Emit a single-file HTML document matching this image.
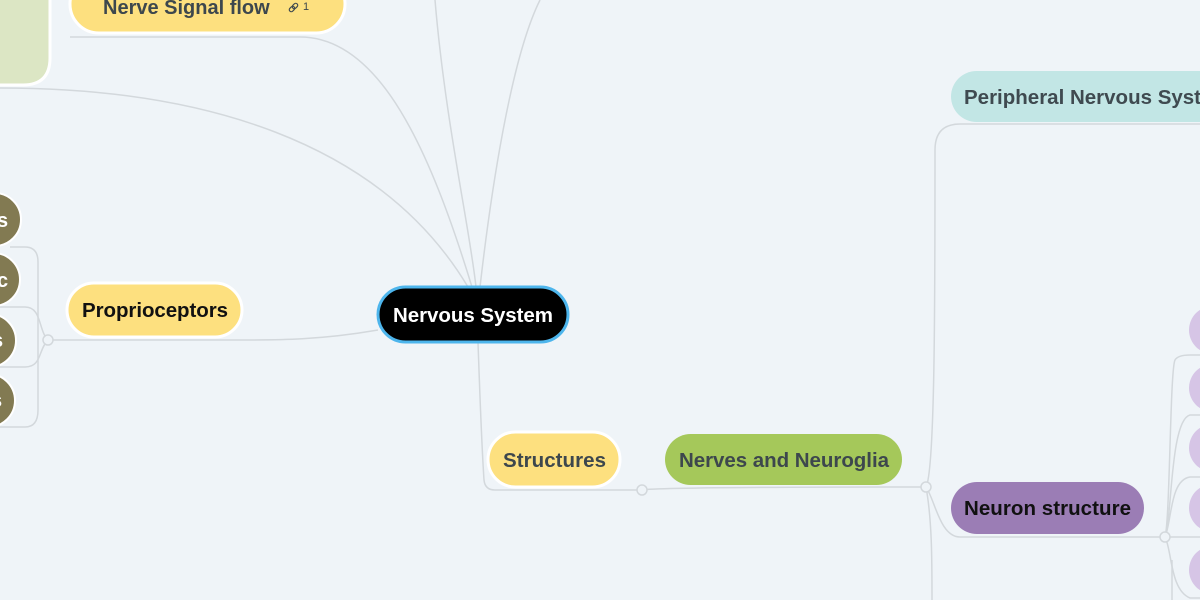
<!DOCTYPE html>
<html><head><meta charset="utf-8"><style>
html,body{margin:0;padding:0;background:#eff4f8;}
svg{display:block;font-family:"Liberation Sans",sans-serif;font-weight:bold;}
</style></head><body>
<svg width="1200" height="600" viewBox="0 0 1200 600" xmlns="http://www.w3.org/2000/svg">
<rect width="1200" height="600" fill="#eff4f8"/>
<g fill="none" stroke="#d3d8dc" stroke-width="1.5">
<path d="M70 37 H300 C380 37 430 150 472 287"/>
<path d="M0 88 C200 88 380 140 468 287"/>
<path d="M435 0 C445 120 470 230 476 287"/>
<path d="M540 0 C510 60 490 200 480 287"/>
<path d="M378 330 C320 340 280 340 240 340 H48"/>
<path d="M10 247 H25 Q38 247 38 262 V410 Q38 427 25 427 H0"/>
<path d="M48 340 C38 330 42 307 25 307 H0"/>
<path d="M48 340 C38 350 42 367 25 367 H0"/>
<path d="M478 342 C480 400 482 450 484 480 Q485 490 495 490 H642"/>
<path d="M642 490 C660 487 880 487 926 487"/>
<path d="M926 487 C935 470 935 300 935 150 Q935 124 960 124 H1200"/>
<path d="M926 487 C935 500 940 537 960 537 H1165"/>
<path d="M926 487 C932 520 932 560 932 600"/>
<path d="M1165 537 C1170 520 1170 370 1175 360 Q1178 355 1190 355 H1200"/>
<path d="M1165 537 C1172 520 1170 420 1190 415 H1200"/>
<path d="M1165 537 C1172 520 1170 480 1190 477 H1200"/>
<path d="M1165 537 H1200"/>
<path d="M1165 537 C1172 550 1170 590 1190 598 H1200"/>
<path d="M1172 560 V600"/>
</g>
<g fill="#eff4f8" stroke="#d3d8dc" stroke-width="1.5">
<circle cx="48" cy="340" r="5"/><circle cx="642" cy="490" r="5"/><circle cx="926" cy="487" r="5"/><circle cx="1165" cy="537" r="5"/>
</g>
<path d="M-30 -30 H50 V58 Q50 85 23 85 H-30 Z" fill="#dce6c4" stroke="#fff" stroke-width="3"/>
<rect x="70" y="-25" width="275" height="58" rx="29" fill="#fde07f" stroke="#fff" stroke-width="3"/>
<text x="103" y="14" font-size="20" fill="#3d474d">Nerve Signal flow</text>
<g fill="none" stroke="#3d474d" stroke-width="1.2"><rect x="290" y="6" width="4" height="6" rx="2" transform="rotate(45 292 9)"/><rect x="293" y="3" width="4" height="6" rx="2" transform="rotate(45 295 6)"/></g>
<text x="303" y="10" font-size="11" font-weight="normal" fill="#3d474d">1</text>
<g fill="#827a52" stroke="#fff" stroke-width="2">
<rect x="-100" y="193" width="121" height="53" rx="26.5"/>
<rect x="-100" y="253" width="120" height="53" rx="26.5"/>
<rect x="-100" y="314" width="116" height="53" rx="26.5"/>
<rect x="-100" y="374" width="115" height="53" rx="26.5"/>
</g>
<g fill="#fff" font-size="20">
<text x="-3" y="227">s</text><text x="-3" y="287">c</text><text x="-8" y="347">s</text><text x="-9" y="407">s</text>
</g>
<rect x="67" y="283" width="175" height="54" rx="27" fill="#fde07f" stroke="#fff" stroke-width="3"/>
<text x="82" y="317" font-size="20.5" fill="#111" textLength="146">Proprioceptors</text>
<rect x="378" y="287" width="190" height="55" rx="27.5" fill="#000" stroke="#4db5ec" stroke-width="3"/>
<text x="393" y="322" font-size="20.5" fill="#fff" textLength="160">Nervous System</text>
<rect x="488" y="432" width="132" height="55" rx="27.5" fill="#fde07f" stroke="#fff" stroke-width="3"/>
<text x="503" y="467" font-size="20.5" fill="#3d474d" textLength="103">Structures</text>
<rect x="665" y="434" width="237" height="51" rx="25.5" fill="#a5c85a"/>
<text x="679" y="467" font-size="20.5" fill="#3d474d" textLength="210">Nerves and Neuroglia</text>
<rect x="951" y="71" width="300" height="51" rx="25.5" fill="#c2e6e5"/>
<text x="964" y="104" font-size="20.5" fill="#3f4a50">Peripheral Nervous System</text>
<rect x="951" y="482" width="193" height="52" rx="26" fill="#9b7db5"/>
<text x="964" y="515" font-size="20.5" fill="#111" textLength="167">Neuron structure</text>
<g fill="#d6c5e6">
<rect x="1189" y="306" width="80" height="48" rx="24"/>
<rect x="1189" y="364" width="80" height="48" rx="24"/>
<rect x="1189" y="424" width="80" height="48" rx="24"/>
<rect x="1189" y="484" width="80" height="48" rx="24"/>
<rect x="1189" y="546" width="80" height="48" rx="24"/>
</g>
</svg>
</body></html>
